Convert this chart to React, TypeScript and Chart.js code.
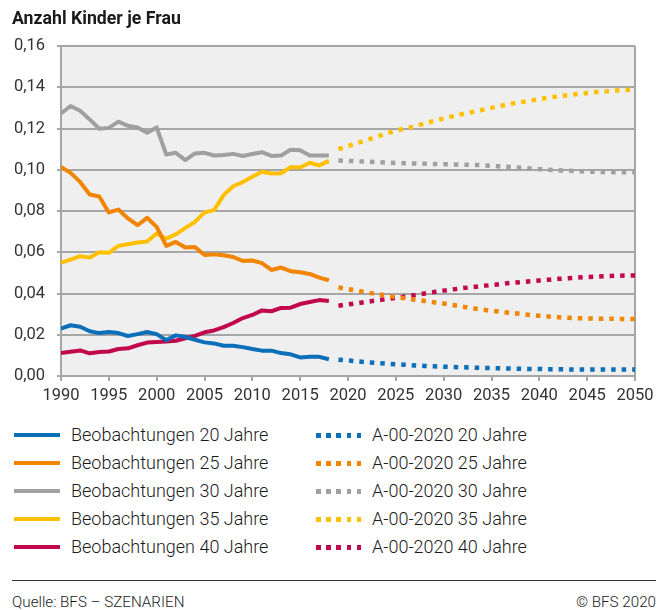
import React, { useEffect, useRef } from "react";
import { Chart, registerables } from "chart.js";

Chart.register(...registerables);

const obsYears = [1990, 1991, 1992, 1993, 1994, 1995, 1996, 1997, 1998, 1999, 2000, 2001, 2002, 2003, 2004, 2005, 2006, 2007, 2008, 2009, 2010, 2011, 2012, 2013, 2014, 2015, 2016, 2017, 2018];
const projYears = [2019, 2020, 2021, 2022, 2023, 2024, 2025, 2026, 2027, 2028, 2029, 2030, 2031, 2032, 2033, 2034, 2035, 2036, 2037, 2038, 2039, 2040, 2041, 2042, 2043, 2044, 2045, 2046, 2047, 2048, 2049, 2050];
const xTicks = [1990, 1995, 2000, 2005, 2010, 2015, 2020, 2025, 2030, 2035, 2040, 2045, 2050];
const yTicks = [0, 0.02, 0.04, 0.06, 0.08, 0.1, 0.12, 0.14, 0.16];

const obs20 = [0.0230, 0.0246, 0.0239, 0.0217, 0.0208, 0.0213, 0.0208, 0.0194, 0.0203, 0.0213, 0.0203, 0.0174, 0.0197, 0.0189, 0.0176, 0.0163, 0.0158, 0.0147, 0.0147, 0.0140, 0.0131, 0.0123, 0.0123, 0.0111, 0.0105, 0.0090, 0.0093, 0.0093, 0.0081];
const obs25 = [0.1014, 0.0985, 0.0941, 0.0880, 0.0870, 0.0793, 0.0807, 0.0764, 0.0731, 0.0767, 0.0723, 0.0631, 0.0650, 0.0623, 0.0625, 0.0587, 0.0590, 0.0585, 0.0577, 0.0558, 0.0560, 0.0547, 0.0514, 0.0526, 0.0508, 0.0503, 0.0495, 0.0477, 0.0464];
const obs30 = [0.1273, 0.1309, 0.1286, 0.1244, 0.1199, 0.1203, 0.1233, 0.1213, 0.1205, 0.1179, 0.1205, 0.1074, 0.1082, 0.1047, 0.1079, 0.1082, 0.1069, 0.1072, 0.1077, 0.1067, 0.1076, 0.1085, 0.1067, 0.1069, 0.1097, 0.1094, 0.1069, 0.1069, 0.1069];
const obs35 = [0.0550, 0.0564, 0.0581, 0.0574, 0.0600, 0.0597, 0.0631, 0.0639, 0.0647, 0.0652, 0.0691, 0.0666, 0.0687, 0.0718, 0.0747, 0.0793, 0.0804, 0.0877, 0.0920, 0.0940, 0.0966, 0.0990, 0.0982, 0.0983, 0.1013, 0.1011, 0.1034, 0.1021, 0.1043];
const obs40 = [0.0111, 0.0118, 0.0124, 0.0110, 0.0116, 0.0119, 0.0131, 0.0134, 0.0149, 0.0162, 0.0165, 0.0167, 0.0171, 0.0183, 0.0194, 0.0212, 0.0221, 0.0237, 0.0257, 0.0281, 0.0296, 0.0318, 0.0314, 0.0330, 0.0331, 0.0349, 0.0359, 0.0368, 0.0364];

const proj20 = [0.0079, 0.0075, 0.0071, 0.0067, 0.0063, 0.0060, 0.0057, 0.0054, 0.0051, 0.0049, 0.0047, 0.0045, 0.0044, 0.0042, 0.0041, 0.0039, 0.0038, 0.0037, 0.0036, 0.0035, 0.0034, 0.0034, 0.0033, 0.0033, 0.0032, 0.0032, 0.0032, 0.0031, 0.0031, 0.0031, 0.0031, 0.0031];
const proj25 = [0.0429, 0.0421, 0.0413, 0.0405, 0.0397, 0.0390, 0.0383, 0.0376, 0.0370, 0.0364, 0.0357, 0.0351, 0.0344, 0.0336, 0.0329, 0.0322, 0.0316, 0.0311, 0.0306, 0.0301, 0.0296, 0.0292, 0.0288, 0.0285, 0.0282, 0.0280, 0.0279, 0.0278, 0.0277, 0.0277, 0.0276, 0.0276];
const proj30 = [0.1045, 0.1043, 0.1041, 0.1039, 0.1037, 0.1035, 0.1033, 0.1031, 0.1030, 0.1029, 0.1028, 0.1027, 0.1026, 0.1025, 0.1024, 0.1022, 0.1019, 0.1016, 0.1013, 0.1010, 0.1006, 0.1003, 0.1000, 0.0997, 0.0995, 0.0993, 0.0991, 0.0990, 0.0989, 0.0988, 0.0988, 0.0988];
const proj35 = [0.1100, 0.1115, 0.1130, 0.1145, 0.1160, 0.1175, 0.1190, 0.1200, 0.1210, 0.1225, 0.1237, 0.1248, 0.1260, 0.1270, 0.1280, 0.1290, 0.1300, 0.1310, 0.1320, 0.1327, 0.1335, 0.1342, 0.1350, 0.1356, 0.1362, 0.1367, 0.1372, 0.1377, 0.1380, 0.1384, 0.1387, 0.1390];
const proj40 = [0.0341, 0.0347, 0.0353, 0.0360, 0.0366, 0.0373, 0.0379, 0.0385, 0.0392, 0.0400, 0.0407, 0.0414, 0.0420, 0.0426, 0.0431, 0.0436, 0.0441, 0.0446, 0.0451, 0.0455, 0.0459, 0.0463, 0.0467, 0.0471, 0.0474, 0.0477, 0.0480, 0.0482, 0.0484, 0.0486, 0.0487, 0.0487];

const ageLabels = ["20 Jahre", "25 Jahre", "30 Jahre", "35 Jahre", "40 Jahre"];
const colors = ["#0b6fba", "#f18400", "#a0a0a0", "#ffc000", "#c2084c"];
const obsSeries = [obs20, obs25, obs30, obs35, obs40];
const projSeries = [proj20, proj25, proj30, proj35, proj40];

const GRID = "#a6a6a6";

const frame = {
  id: "frame",
  beforeDraw(chart: any) {
    const { ctx, chartArea: a } = chart;
    ctx.save();
    ctx.fillStyle = "#efefef";
    ctx.fillRect(a.left, a.top, a.right - a.left, a.bottom - a.top);
    ctx.restore();
  },
  beforeDatasetsDraw(chart: any) {
    const { ctx, chartArea: a } = chart;
    ctx.save();
    ctx.strokeStyle = GRID;
    ctx.lineWidth = 2;
    ctx.beginPath();
    ctx.moveTo(a.right, a.top);
    ctx.lineTo(a.right, a.bottom);
    ctx.moveTo(a.left, a.top);
    ctx.lineTo(a.right, a.top);
    ctx.stroke();
    ctx.restore();
  },
};

function ChartCanvas() {
  const ref = useRef<HTMLCanvasElement>(null);
  useEffect(() => {
    if (!ref.current) return;
    const datasets: any[] = [];
    obsSeries.forEach((s, i) => {
      datasets.push({
        label: "Beobachtungen " + ageLabels[i],
        data: s.map((v, j) => ({ x: obsYears[j], y: v })),
        borderColor: colors[i],
        borderWidth: 4,
        pointRadius: 0,
        tension: 0,
        fill: false,
        borderJoinStyle: "round",
      });
    });
    projSeries.forEach((s, i) => {
      datasets.push({
        label: "A-00-2020 " + ageLabels[i],
        data: s.map((v, j) => ({ x: projYears[j], y: v })),
        borderColor: colors[i],
        borderWidth: 4.5,
        borderDash: [4.5, 6],
        borderCapStyle: "butt",
        pointRadius: 0,
        tension: 0,
        fill: false,
      });
    });
    const chart = new Chart(ref.current, {
      type: "line",
      data: { datasets },
      plugins: [frame],
      options: {
        responsive: false,
        animation: false,
        layout: { padding: { left: 0, right: 33, top: 46, bottom: 0 } },
        plugins: { legend: { display: false }, tooltip: { enabled: false } },
        scales: {
          x: {
            type: "linear",
            min: 1990,
            max: 2050,
            afterBuildTicks: (s: any) => {
              s.ticks = xTicks.map((v) => ({ value: v }));
            },
            afterFit: (s: any) => {
              s.height = 34;
            },
            ticks: {
              font: { family: "Roboto", size: 16.5 },
              color: "#333",
              padding: 5,
              maxRotation: 0,
              autoSkip: false,
              callback: (v: any) => String(v),
            },
            grid: { drawOnChartArea: false, drawTicks: true, tickLength: 5, color: GRID, lineWidth: 2 },
            border: { color: GRID, width: 2 },
          },
          y: {
            min: 0,
            max: 0.16,
            afterBuildTicks: (s: any) => {
              s.ticks = yTicks.map((v) => ({ value: v }));
            },
            afterFit: (s: any) => {
              s.width = 61;
            },
            ticks: {
              font: { family: "Roboto", size: 16.5 },
              color: "#333",
              padding: 12,
              callback: (v: any) => Number(v).toFixed(2).replace(".", ","),
            },
            grid: { drawOnChartArea: true, drawTicks: true, tickLength: 4, color: GRID, lineWidth: 2 },
            border: { color: GRID, width: 2 },
          },
        },
      },
    });
    return () => chart.destroy();
  }, []);
  return <canvas ref={ref} width={668} height={410} style={{ display: "block", width: 668, height: 410 }} />;
}

export default function App() {
  const textStyle: React.CSSProperties = {
    position: "absolute",
    fontSize: 18,
    fontWeight: 300,
    color: "#1a1a1a",
    lineHeight: "28px",
    whiteSpace: "nowrap",
  };
  return (
    <div style={{ position: "absolute", left: 0, top: 0, width: 668, height: 610, background: "#fff", fontFamily: "Roboto, sans-serif", overflow: "hidden" }}>
      <div style={{ position: "absolute", left: 0, top: 0 }}>
        <ChartCanvas />
      </div>
      <div style={{ position: "absolute", left: 12, top: 8, fontSize: 17.7, fontWeight: 700, color: "#1a1a1a", lineHeight: "20px", whiteSpace: "nowrap" }}>
        Anzahl Kinder je Frau
      </div>
      {ageLabels.map((lab, i) => (
        <React.Fragment key={lab}>
          <div style={{ position: "absolute", left: 14, top: 421 + 28 * i + 12, width: 46, height: 4, background: colors[i] }} />
          <div style={{ ...textStyle, left: 71, top: 421 + 28 * i }}>{"Beobachtungen " + lab}</div>
          <div
            style={{
              position: "absolute",
              left: 316,
              top: 421 + 28 * i + 12,
              width: 46,
              height: 4.5,
              background: `repeating-linear-gradient(to right, ${colors[i]} 0px, ${colors[i]} 4.5px, transparent 4.5px, transparent 10.2px)`,
            }}
          />
          <div style={{ ...textStyle, left: 372, top: 421 + 28 * i }}>{"A-00-2020 " + lab}</div>
        </React.Fragment>
      ))}
      <div style={{ position: "absolute", left: 12, top: 580, width: 644, height: 0, borderTop: "1.5px solid #333" }} />
      <div style={{ position: "absolute", left: 12, top: 592, fontSize: 15.2, fontWeight: 300, color: "#1a1a1a", lineHeight: "20px", whiteSpace: "nowrap" }}>
        Quelle: BFS – SZENARIEN
      </div>
      <div style={{ position: "absolute", right: 12, top: 592, fontSize: 15.2, fontWeight: 300, color: "#1a1a1a", lineHeight: "20px", whiteSpace: "nowrap" }}>
        © BFS 2020
      </div>
    </div>
  );
}
